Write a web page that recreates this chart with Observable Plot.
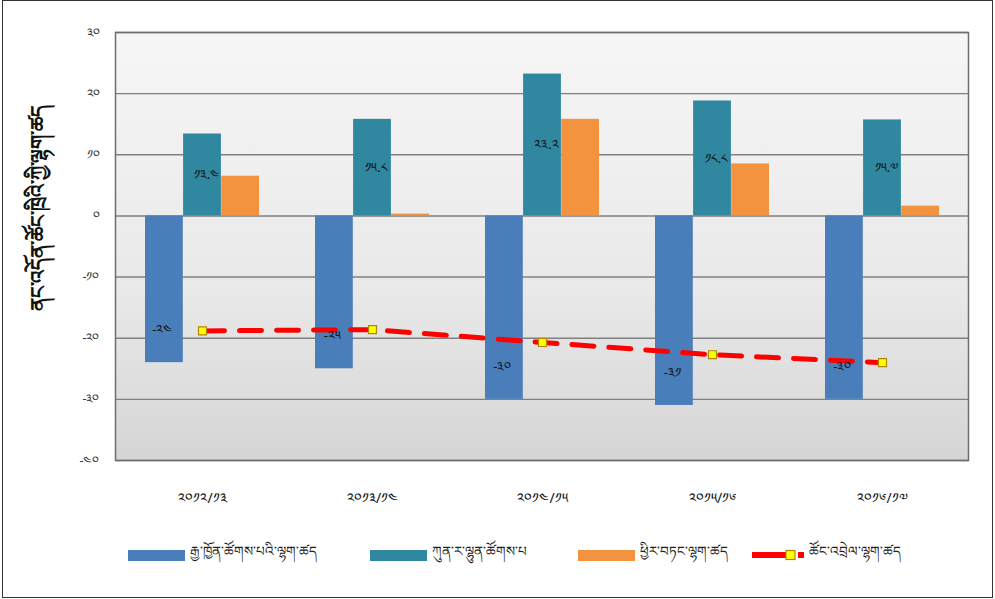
<!DOCTYPE html>
<html><head><meta charset="utf-8">
<script src="https://cdn.jsdelivr.net/npm/d3@7"></script>
<script src="https://cdn.jsdelivr.net/npm/@observablehq/plot@0.6"></script>
<style>
body{margin:0;background:#fff;font-family:"Noto Sans","DejaVu Sans",sans-serif;}
#wrap{position:relative;width:995px;height:599px;overflow:hidden;background:#fff}
#chart{position:absolute;left:0;top:0}
#frame{position:absolute;left:2px;top:0;width:989px;height:596px;border:1px solid #333;pointer-events:none}
#legend{position:absolute;top:543px;left:0;width:995px;height:24px}
.item{position:absolute;top:0;height:24px;display:flex;align-items:center;font-size:13.5px;color:#222;white-space:nowrap}
.sw{width:57px;height:11px;margin-right:5px}
</style></head><body>
<div id="wrap"><div id="chart"></div><div id="legend"></div><div id="frame"></div></div>
<script>
// ---- data ----
const categories = ["༢༠༡༢/༡༣", "༢༠༡༣/༡༤", "༢༠༡༤/༡༥", "༢༠༡༥/༡༦", "༢༠༡༦/༡༧"];
const seriesNames = ["རྒྱ་ཁྱོན་ཚོགས་པའི་ལྷག་ཚད", "ཀུན་ར་ལྷུན་ཚོགས་པ", "ཕྱིར་བཏང་ལྷག་ཚད", "ཚོང་འབྲེལ་ལྷག་ཚད"];
const blueValues = [-24, -25, -30, -31, -30];
const tealValues = [13.4, 15.8, 23.2, 18.8, 15.7];
const orangeValues = [6.5, 0.3, 15.8, 8.5, 1.6];
const lineValues = [-18.8, -18.6, -20.7, -22.7, -24.0];
const yTicks = [30, 20, 10, 0, -10, -20, -30, -40];
const yTitle = "ནང་འདོན་ཚོང་ཁྲིའི་ཀྱི་ལྷག་ཚད";

// ---- helpers ----
const tibDigits = "༠༡༢༣༤༥༦༧༨༩";
const tib = v => String(v).replace(/[0-9]/g, d => tibDigits[+d]);

const rows = categories.map((c, i) => ({
  cat: c, blue: blueValues[i], teal: tealValues[i], orange: orangeValues[i], line: lineValues[i]
}));

const W = 995, H = 530, mL = 115, mR = 27, mT = 32, mB = 70;
const pIn = 0.33, pOut = 0.165;
const step = (W - mL - mR) / (categories.length - pIn + 2 * pOut);
const bw = step * (1 - pIn);

const colors = {blue: "#4a7ebb", teal: "#2f87a0", orange: "#f3933f", red: "#ff0000"};

const chart = Plot.plot({
  width: W, height: H,
  marginLeft: mL, marginRight: mR, marginTop: mT, marginBottom: mB,
  style: {fontFamily: "'Noto Sans','DejaVu Sans',sans-serif", background: "transparent", color: "#333"},
  x: {type: "band", domain: categories, paddingInner: pIn, paddingOuter: pOut},
  y: {domain: [-40, 30]},
  marks: [
    Plot.frame({fill: "url(#bgGrad)"}),
    Plot.gridY(yTicks, {stroke: "#808080", strokeOpacity: 1, strokeWidth: 1.4}),
    Plot.barY(rows, {x: "cat", y: "blue", fill: colors.blue, insetRight: 2 * bw / 3}),
    Plot.barY(rows, {x: "cat", y: "teal", fill: colors.teal, insetLeft: bw / 3, insetRight: bw / 3}),
    Plot.barY(rows, {x: "cat", y: "orange", fill: colors.orange, insetLeft: 2 * bw / 3}),
    Plot.line(rows, {x: "cat", y: "line", stroke: colors.red, strokeWidth: 5, strokeDasharray: "22,15"}),
    Plot.dot(rows, {x: "cat", y: "line", symbol: "square", r: 4.5, fill: "#ffff00", stroke: "#b38600", strokeWidth: 1.2}),
    Plot.text(rows, {x: "cat", y: d => d.teal / 2, text: d => tib(d.teal.toFixed(1)), dx: 4, fontSize: 13, fill: "#111"}),
    Plot.text(rows, {x: "cat", y: "blue", text: d => tib(d.blue), dx: -bw / 3 - 2, dy: -33, fontSize: 13, fill: "#111"}),
    Plot.axisY(yTicks, {tickFormat: tib, tickSize: 0, tickPadding: 16, fontSize: 12.5, label: null}),
    Plot.axisX({tickSize: 0, tickPadding: 33, fontSize: 14, label: null, fill: "#111"}),
    Plot.text([yTitle], {frameAnchor: "left", text: d => d, rotate: -90, textAnchor: "middle", dx: -77, dy: -39, fontSize: 20, fontWeight: "bold", fill: "#111"}),
    Plot.frame({stroke: "#6e6e6e", strokeWidth: 1.5})
  ]
});

const ns = "http://www.w3.org/2000/svg";
const defs = document.createElementNS(ns, "defs");
defs.innerHTML = '<linearGradient id="bgGrad" x1="0" y1="0" x2="0" y2="1">' +
  '<stop offset="0" stop-color="#f6f6f6"/><stop offset="0.6" stop-color="#e9e9e9"/><stop offset="1" stop-color="#d5d5d5"/></linearGradient>';
chart.insertBefore(defs, chart.firstChild);
document.getElementById("chart").appendChild(chart);

// ---- legend ----
const legend = document.getElementById("legend");
const legendLefts = [128, 370, 578, 752];
const swatchColors = [colors.blue, colors.teal, colors.orange];
seriesNames.forEach((name, i) => {
  const item = document.createElement("div");
  item.className = "item";
  item.style.left = legendLefts[i] + "px";
  if (i < 3) {
    const sw = document.createElement("div");
    sw.className = "sw";
    sw.style.background = swatchColors[i];
    item.appendChild(sw);
  } else {
    const s = document.createElementNS(ns, "svg");
    s.setAttribute("width", 52); s.setAttribute("height", 14);
    s.style.marginRight = "5px";
    s.innerHTML = '<line x1="0" y1="7" x2="36" y2="7" stroke="#ff0000" stroke-width="6"/>' +
      '<rect x="34" y="2.5" width="9" height="9" fill="#ffff00" stroke="#b38600" stroke-width="1.2"/>' +
      '<line x1="46" y1="7" x2="52" y2="7" stroke="#ff0000" stroke-width="6"/>';
    item.appendChild(s);
  }
  const t = document.createElement("span");
  t.textContent = name;
  item.appendChild(t);
  legend.appendChild(item);
});
</script>
</body></html>
